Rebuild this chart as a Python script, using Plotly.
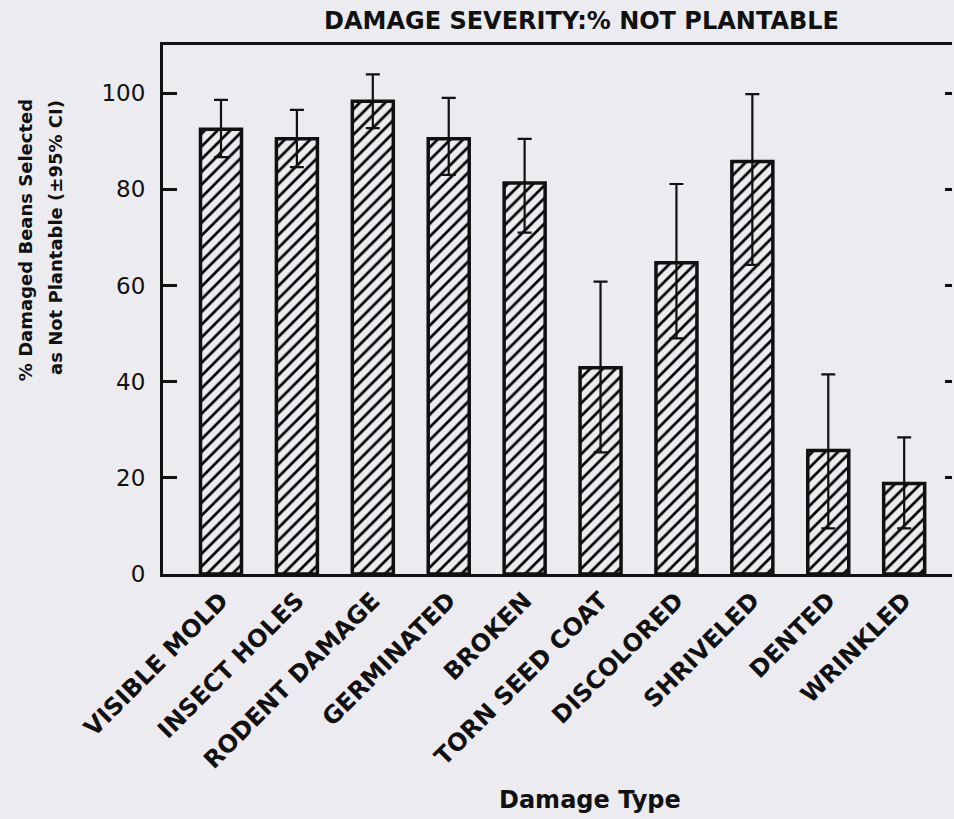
import plotly.graph_objects as go

categories = ["VISIBLE MOLD", "INSECT HOLES", "RODENT DAMAGE", "GERMINATED", "BROKEN",
              "TORN SEED COAT", "DISCOLORED", "SHRIVELED", "DENTED", "WRINKLED"]
pct_not_plantable = [92.5, 90.5, 98.3, 90.5, 81.3, 42.9, 64.7, 85.8, 25.7, 18.8]
ci_upper = [98.6, 96.5, 103.9, 99.0, 90.5, 60.8, 81.1, 99.8, 41.5, 28.4]
ci_lower = [86.7, 84.6, 92.7, 83.0, 71.0, 25.3, 49.0, 64.3, 9.5, 9.5]
y_ticks = [0, 20, 40, 60, 80, 100]

err_plus = [u - v for u, v in zip(ci_upper, pct_not_plantable)]
err_minus = [v - l for v, l in zip(pct_not_plantable, ci_lower)]

BG = "#ebebf0"
INK = "#111111"
FONT = "DejaVu Sans"

fig = go.Figure()
fig.add_trace(go.Bar(
    x=categories, y=pct_not_plantable, width=0.54,
    marker=dict(color=BG, line=dict(color=INK, width=3.5),
                pattern=dict(shape="/", fgcolor="#000000", bgcolor=BG, size=9,
                             solidity=0.3, fgopacity=1)),
    error_y=dict(type="data", symmetric=False, array=err_plus, arrayminus=err_minus,
                 color=INK, thickness=2.2, width=7),
    showlegend=False,
))
# invisible trace for right-hand tick marks
fig.add_trace(go.Scatter(x=categories, y=pct_not_plantable, yaxis="y2", mode="none",
                         showlegend=False, hoverinfo="skip"))

fig.update_layout(
    width=954, height=819,
    margin=dict(l=163, r=2, t=45, b=245),
    paper_bgcolor=BG, plot_bgcolor=BG,
    font=dict(family=FONT, color=INK),
    xaxis=dict(type="category", range=[-0.764, 9.63], showline=True, linecolor=INK,
               linewidth=3, mirror=True, ticks="", showgrid=False, zeroline=False,
               tickangle=-45, tickfont=dict(family=FONT, size=24, weight="bold", color=INK)),
    yaxis=dict(range=[0, 110], tickvals=y_ticks, showline=True, linecolor=INK, linewidth=3,
               ticks="inside", ticklen=14, tickwidth=2.5, tickcolor=INK, showgrid=False,
               zeroline=False, ticklabelstandoff=10,
               tickfont=dict(family=FONT, size=23, color=INK)),
    yaxis2=dict(range=[0, 110], tickvals=y_ticks, overlaying="y", side="right",
                showline=False, ticks="inside", ticklen=7, tickwidth=2.5, tickcolor=INK,
                showticklabels=False, showgrid=False, zeroline=False),
    annotations=[
        dict(text="DAMAGE SEVERITY:% NOT PLANTABLE", xref="paper", yref="paper",
             x=0.531, y=1.045, xanchor="center", yanchor="middle", showarrow=False,
             font=dict(family=FONT, size=24, weight="bold", color=INK)),
        dict(text="Damage Type", xref="paper", yref="paper",
             x=0.541, y=-0.427, xanchor="center", yanchor="middle", showarrow=False,
             font=dict(family=FONT, size=24, weight="bold", color=INK)),
        dict(text="% Damaged Beans Selected", xref="paper", yref="paper",
             x=-0.175, y=0.631, xanchor="center", yanchor="middle", showarrow=False,
             textangle=-90, font=dict(family=FONT, size=18, weight="bold", color=INK)),
        dict(text="as Not Plantable (±95% CI)", xref="paper", yref="paper",
             x=-0.137, y=0.637, xanchor="center", yanchor="middle", showarrow=False,
             textangle=-90, font=dict(family=FONT, size=18, weight="bold", color=INK)),
    ],
)

fig.write_html("out.html", config={"displayModeBar": False},
               post_script="document.body.style.margin='0';document.body.style.overflow='hidden';")
